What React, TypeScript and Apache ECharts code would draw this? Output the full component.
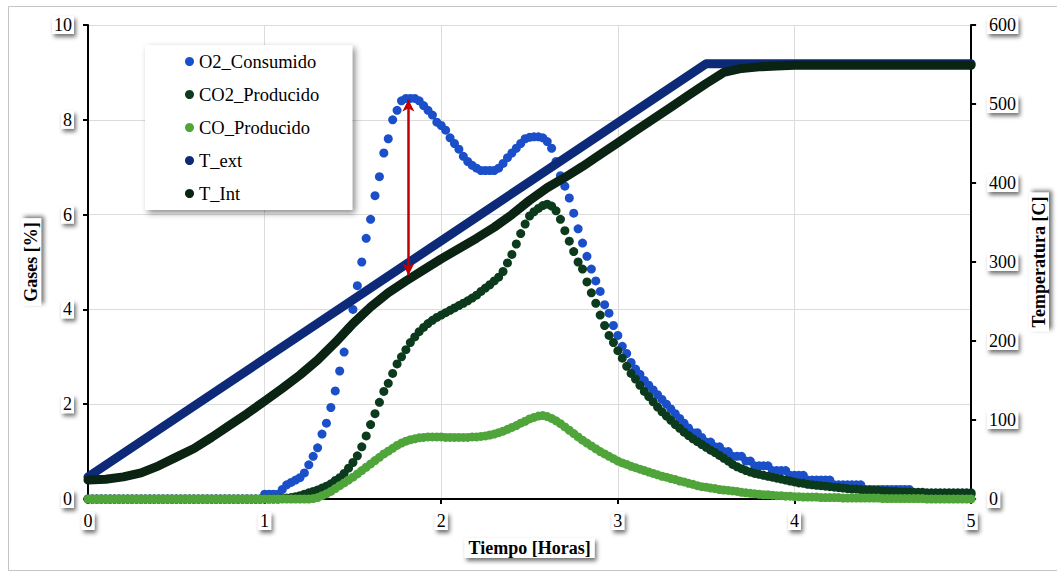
import React, { useEffect, useRef } from "react";
import * as echarts from "echarts";

// ---------- data ----------
const STEP_H = 0.025; // sampling interval of the gas readings, hours

const SERIES_NAMES = ["O2_Consumido", "CO2_Producido", "CO_Producido", "T_ext", "T_Int"];

const O2_CONSUMIDO = [
  0, 0, 0, 0, 0, 0, 0, 0, 0, 0,
  0, 0, 0, 0, 0, 0, 0, 0, 0, 0,
  0, 0, 0, 0, 0, 0, 0, 0, 0, 0,
  0, 0, 0, 0, 0, 0, 0, 0, 0, 0,
  0.1, 0.1, 0.1, 0.1, 0.2, 0.3, 0.35, 0.4, 0.45, 0.55,
  0.72, 0.9, 1.08, 1.37, 1.6, 1.93, 2.28, 2.7, 3.1, 3.6,
  4.0, 4.5, 5.0, 5.5, 5.9, 6.4, 6.8, 7.3, 7.6, 8.0,
  8.2, 8.4, 8.45, 8.45, 8.45, 8.4, 8.3, 8.2, 8.1, 7.95,
  7.88, 7.78, 7.62, 7.5, 7.38, 7.23, 7.12, 7.04, 6.98, 6.93,
  6.93, 6.93, 6.93, 6.98, 7.08, 7.2, 7.3, 7.4, 7.5, 7.6,
  7.63, 7.64, 7.64, 7.62, 7.54, 7.4, 7.12, 6.82, 6.6, 6.35,
  6.03, 5.7, 5.4, 5.12, 4.85, 4.6, 4.38, 4.1, 3.92, 3.66,
  3.45, 3.22, 3.07, 2.88, 2.74, 2.63, 2.5, 2.4, 2.3, 2.2,
  2.1, 2.0, 1.9, 1.8, 1.7, 1.6, 1.5, 1.4, 1.4, 1.3,
  1.2, 1.2, 1.1, 1.1, 1.0, 1.0, 0.9, 0.9, 0.9, 0.8,
  0.8, 0.7, 0.7, 0.7, 0.7, 0.6, 0.6, 0.6, 0.6, 0.5,
  0.5, 0.5, 0.5, 0.4, 0.4, 0.4, 0.4, 0.4, 0.4, 0.3,
  0.3, 0.3, 0.3, 0.3, 0.3, 0.3, 0.2, 0.2, 0.2, 0.2,
  0.2, 0.2, 0.2, 0.2, 0.2, 0.2, 0.2, 0.1, 0.1, 0.1,
  0.1, 0.1, 0.1, 0.1, 0.1, 0.1, 0.1, 0.1, 0.1, 0.1,
  0.1,
];

const CO2_PRODUCIDO = [
  0, 0, 0, 0, 0, 0, 0, 0, 0, 0,
  0, 0, 0, 0, 0, 0, 0, 0, 0, 0,
  0, 0, 0, 0, 0, 0, 0, 0, 0, 0,
  0, 0, 0, 0, 0, 0, 0, 0, 0, 0,
  0, 0, 0, 0, 0.01, 0.02, 0.03, 0.05, 0.07, 0.1,
  0.13, 0.16, 0.19, 0.23, 0.27, 0.32, 0.39, 0.45, 0.54, 0.65,
  0.77, 0.91, 1.1, 1.33, 1.57, 1.8, 2.04, 2.27, 2.44, 2.65,
  2.85, 3.0, 3.15, 3.3, 3.42, 3.53, 3.62, 3.7, 3.77, 3.83,
  3.88, 3.93, 3.98, 4.03, 4.08, 4.13, 4.18, 4.24, 4.3, 4.38,
  4.45, 4.52, 4.6, 4.68, 4.8, 4.98, 5.16, 5.38, 5.6, 5.8,
  5.97, 6.06, 6.13, 6.19, 6.22, 6.18, 6.08, 5.9, 5.66, 5.44,
  5.22, 5.0, 4.85, 4.58, 4.35, 4.13, 3.88, 3.66, 3.45, 3.3,
  3.13, 2.97, 2.8, 2.65, 2.53, 2.4, 2.27, 2.16, 2.05, 1.94,
  1.84, 1.75, 1.66, 1.57, 1.49, 1.41, 1.34, 1.27, 1.21, 1.15,
  1.09, 1.03, 0.98, 0.92, 0.86, 0.8, 0.73, 0.68, 0.64, 0.6,
  0.57, 0.54, 0.52, 0.5, 0.48, 0.46, 0.44, 0.42, 0.4, 0.38,
  0.36, 0.34, 0.33, 0.31, 0.3, 0.29, 0.28, 0.27, 0.26, 0.25,
  0.24, 0.23, 0.22, 0.21, 0.21, 0.2, 0.19, 0.19, 0.18, 0.18,
  0.17, 0.17, 0.16, 0.16, 0.15, 0.15, 0.15, 0.14, 0.14, 0.14,
  0.13, 0.13, 0.13, 0.13, 0.13, 0.13, 0.13, 0.13, 0.13, 0.13,
  0.13,
];

const CO_PRODUCIDO = [
  0, 0, 0, 0, 0, 0, 0, 0, 0, 0,
  0, 0, 0, 0, 0, 0, 0, 0, 0, 0,
  0, 0, 0, 0, 0, 0, 0, 0, 0, 0,
  0, 0, 0, 0, 0, 0, 0, 0, 0, 0,
  0, 0, 0, 0, 0, 0, 0, 0, 0, 0,
  0, 0.01, 0.03, 0.07, 0.11, 0.16, 0.22, 0.28, 0.34, 0.4,
  0.46, 0.53, 0.6, 0.67, 0.74, 0.81, 0.88, 0.95, 1.01, 1.07,
  1.13, 1.18, 1.22, 1.25, 1.27, 1.29, 1.3, 1.31, 1.31, 1.31,
  1.31, 1.3, 1.3, 1.3, 1.3, 1.3, 1.3, 1.31, 1.31, 1.32,
  1.33, 1.35, 1.37, 1.4, 1.43, 1.47, 1.51, 1.55, 1.6, 1.64,
  1.69, 1.72, 1.75, 1.76, 1.74, 1.7, 1.65, 1.59, 1.52, 1.45,
  1.38, 1.31, 1.24, 1.18, 1.12, 1.06, 1.0, 0.95, 0.9, 0.85,
  0.8, 0.76, 0.73, 0.69, 0.66, 0.63, 0.6, 0.57, 0.54, 0.51,
  0.48, 0.46, 0.43, 0.41, 0.38, 0.36, 0.33, 0.31, 0.28, 0.26,
  0.25, 0.23, 0.22, 0.2, 0.19, 0.18, 0.17, 0.16, 0.14, 0.13,
  0.12, 0.11, 0.1, 0.09, 0.09, 0.08, 0.07, 0.07, 0.06, 0.06,
  0.05, 0.05, 0.04, 0.04, 0.04, 0.04, 0.03, 0.03, 0.03, 0.03,
  0.03, 0.02, 0.02, 0.02, 0.02, 0.02, 0.02, 0.02, 0.02, 0.02,
  0.01, 0.01, 0.01, 0.01, 0.01, 0.01, 0.01, 0.01, 0.01, 0.01,
  0, 0, 0, 0, 0, 0, 0, 0, 0, 0,
  0,
];

// exterior temperature: linear ramp then plateau (°C)
const T_EXT_TIME = [0, 3.5, 5];
const T_EXT = [28, 551, 551];

// interior temperature every 0.1 h (°C)
const T_INT_STEP_H = 0.1;
const T_INT = [
  24, 25, 28, 33, 42, 53, 64, 78, 93, 108,
  124, 140, 157, 176, 198, 222, 243, 261, 276, 290,
  304, 317, 330, 344, 360, 378, 394, 407, 421, 436,
  451, 466, 481, 496, 511, 526, 540, 545, 547, 548,
  549, 549, 549, 549, 549, 549, 549, 549, 549, 549,
  549,
];

// red double arrow (hours, %)
const ARROW_T = 1.814;
const ARROW_TOP = 8.43;
const ARROW_BOTTOM = 4.72;

const COLORS = {
  o2: "#1a4fc9",
  co2: "#0c3a1c",
  co: "#4fa53a",
  tExt: "#0d2a78",
  tInt: "#0a2313",
  arrow: "#c00000",
};

const FONT = "'Liberation Serif', 'Times New Roman', serif";

export default function App() {
  const ref = useRef<HTMLDivElement>(null);

  useEffect(() => {
    document.body.style.margin = "0";
    if (!ref.current) return;
    const chart = echarts.init(ref.current, undefined, { renderer: "svg" });

    const boxLabel = {
      fontFamily: FONT,
      fontSize: 18,
      color: "#000",
      backgroundColor: "#fff",
      padding: [0, 2, 0, 2],
      shadowColor: "rgba(0,0,0,0.55)",
      shadowBlur: 4,
      shadowOffsetX: 2,
      shadowOffsetY: 3,
    };
    const nameStyle = {
      ...boxLabel,
      fontWeight: "bold",
      padding: [1, 4, 1, 4],
    };
    const axisLine = { show: true, onZero: false, lineStyle: { color: "#000", width: 2 } };
    const axisTick = { show: true, length: 5, lineStyle: { color: "#000", width: 2 } };
    const splitLine = { show: true, lineStyle: { color: "#dcdcdc", width: 1 } };

    const gas = (arr: number[]) => arr.map((v, i) => [i * STEP_H, v]);

    const scatter = (name: string, arr: number[], color: string) => ({
      type: "scatter",
      name,
      data: gas(arr),
      symbol: "circle",
      symbolSize: 9,
      itemStyle: { color, opacity: 1 },
      emphasis: { disabled: true },
    });

    const option = {
      animation: false,
      backgroundColor: "#fff",
      grid: { left: 88, right: 84, top: 25, bottom: 76, containLabel: false },
      legend: {
        orient: "vertical",
        left: 145,
        top: 45,
        padding: [7, 33, 7, 40],
        itemGap: 14,
        itemWidth: 9,
        itemHeight: 9,
        backgroundColor: "#fff",
        shadowColor: "rgba(0,0,0,0.45)",
        shadowBlur: 6,
        shadowOffsetX: 3,
        shadowOffsetY: 3,
        textStyle: { fontFamily: FONT, fontSize: 18.5, color: "#000" },
        data: SERIES_NAMES.map((n) => ({ name: n, icon: "circle" })),
      },
      xAxis: {
        type: "value",
        min: 0,
        max: 5,
        interval: 1,
        name: "Tiempo [Horas]",
        nameLocation: "middle",
        nameGap: 39,
        nameTextStyle: nameStyle,
        axisLine,
        axisTick,
        splitLine,
        axisLabel: { ...boxLabel, margin: 13 },
      },
      yAxis: [
        {
          type: "value",
          min: 0,
          max: 10,
          interval: 2,
          name: "Gases [%]",
          nameLocation: "middle",
          nameRotate: 90,
          nameGap: 34,
          nameTextStyle: nameStyle,
          axisLine,
          axisTick,
          splitLine,
          axisLabel: { ...boxLabel, margin: 14 },
        },
        {
          type: "value",
          min: 0,
          max: 600,
          interval: 100,
          position: "right",
          name: "Temperatura [C]",
          nameLocation: "middle",
          nameRotate: 90,
          nameGap: 48,
          nameTextStyle: nameStyle,
          axisLine,
          axisTick,
          splitLine: { show: false },
          axisLabel: { ...boxLabel, margin: 16 },
        },
      ],
      series: [
        scatter(SERIES_NAMES[0], O2_CONSUMIDO, COLORS.o2),
        scatter(SERIES_NAMES[1], CO2_PRODUCIDO, COLORS.co2),
        scatter(SERIES_NAMES[2], CO_PRODUCIDO, COLORS.co),
        {
          type: "line",
          name: SERIES_NAMES[3],
          yAxisIndex: 1,
          data: T_EXT.map((v, i) => [T_EXT_TIME[i], v]),
          showSymbol: false,
          symbol: "circle",
          itemStyle: { color: COLORS.tExt },
          lineStyle: { color: COLORS.tExt, width: 9, cap: "round", join: "round" },
          emphasis: { disabled: true },
        },
        {
          type: "line",
          name: SERIES_NAMES[4],
          yAxisIndex: 1,
          data: T_INT.map((v, i) => [i * T_INT_STEP_H, v]),
          showSymbol: false,
          symbol: "circle",
          itemStyle: { color: COLORS.tInt },
          lineStyle: { color: COLORS.tInt, width: 9, cap: "round", join: "round" },
          emphasis: { disabled: true },
        },
        {
          type: "line",
          name: "flecha",
          data: [],
          z: 10,
          markLine: {
            silent: true,
            symbol: ["arrow", "arrow"],
            symbolSize: [9, 12],
            label: { show: false },
            lineStyle: { color: COLORS.arrow, width: 2.5, type: "solid" },
            data: [[{ coord: [ARROW_T, ARROW_TOP] }, { coord: [ARROW_T, ARROW_BOTTOM] }]],
          },
        },
      ],
      graphic: [
        {
          type: "rect",
          shape: { x: 8.5, y: 6.5, width: 1060, height: 564 },
          style: { fill: "none", stroke: "#c4c4c4", lineWidth: 1 },
          silent: true,
          z: -1,
        },
      ],
    };

    chart.setOption(option as any);
    return () => chart.dispose();
  }, []);

  return (
    <div
      ref={ref}
      style={{ position: "fixed", left: 0, top: 0, width: 1057, height: 575, background: "#fff" }}
    />
  );
}
